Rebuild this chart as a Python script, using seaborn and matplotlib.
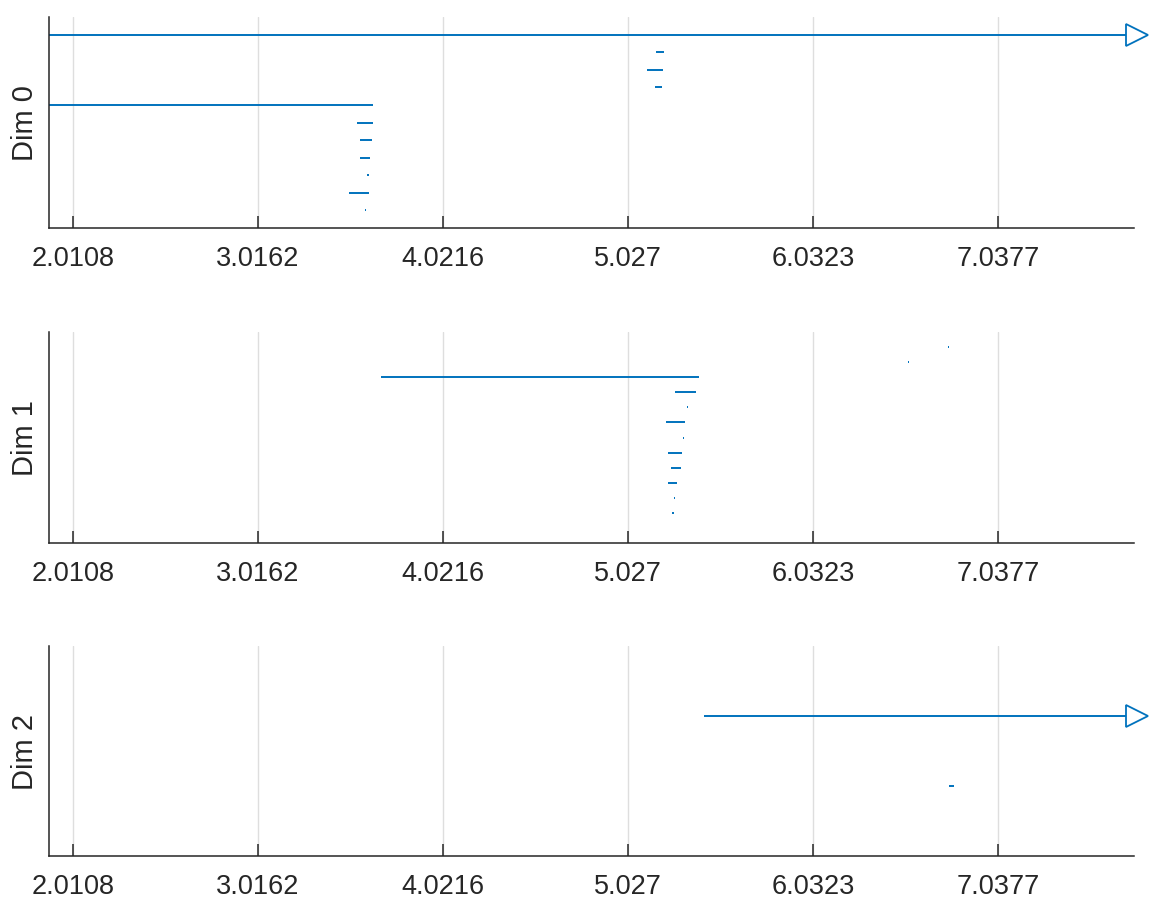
import numpy as np
import pandas as pd
import matplotlib
matplotlib.use("Agg")
import matplotlib.pyplot as plt
import seaborn as sns

# ---- data (persistence barcode: birth / death per homology dimension) ----
dim_labels = ["Dim 0", "Dim 1", "Dim 2"]
dim0_birth = [1.880, 5.177, 5.128, 5.175, 1.880, 3.555, 3.568, 3.568, 3.608, 3.508, 3.599]
dim0_death = [np.inf, 5.223, 5.219, 5.210, 3.642, 3.641, 3.633, 3.624, 3.619, 3.619, 3.602]
dim1_birth = [6.765, 6.548, 3.686, 5.284, 5.349, 5.235, 5.327, 5.245, 5.259, 5.243, 5.279, 5.264, 5.269]
dim1_death = [6.770, 6.552, 5.415, 5.399, 5.353, 5.337, 5.333, 5.318, 5.313, 5.292, 5.282, 5.279, 5.272]
dim2_birth = [5.442, 6.774]
dim2_death = [np.inf, 6.796]
tick_values = [2.0108, 3.0162, 4.0216, 5.027, 6.0323, 7.0377]
tick_labels = ["2.0108", "3.0162", "4.0216", "5.027", "6.0323", "7.0377"]
x_limits = (1.880, 7.777)

births = [dim0_birth, dim1_birth, dim2_birth]
deaths = [dim0_death, dim1_death, dim2_death]

BLUE = "#0072BD"
TXT = "#262626"

sns.set_theme(style="white")
plt.rcParams["font.family"] = ["Liberation Sans", "DejaVu Sans"]

fig = plt.figure(figsize=(11.64, 9.12), dpi=100)
rects = [
    [49 / 1164, 1 - 229 / 912, 1085 / 1164, 211 / 912],
    [49 / 1164, 1 - 544 / 912, 1085 / 1164, 211 / 912],
    [49 / 1164, 1 - 857 / 912, 1085 / 1164, 210 / 912],
]

for k in range(3):
    ax = fig.add_axes(rects[k])
    b = np.array(births[k], dtype=float)
    d = np.array(deaths[k], dtype=float)
    n = len(b)
    ypos = n - np.arange(n)  # top bar first
    inf_mask = np.isinf(d)
    d_draw = np.where(inf_mask, x_limits[1], d)
    rows = []
    for i in range(n):
        rows.append({"bar": i, "x": b[i], "y": ypos[i]})
        rows.append({"bar": i, "x": d_draw[i], "y": ypos[i]})
    df = pd.DataFrame(rows)
    sns.lineplot(data=df, x="x", y="y", units="bar", estimator=None,
                 color=BLUE, linewidth=1.4, ax=ax, sort=False,
                 solid_capstyle="butt", legend=False)
    # arrows for infinite bars
    if inf_mask.any():
        arrow_x = x_limits[1] + (x_limits[1] - x_limits[0]) * 0.0028
        ax.plot(np.full(inf_mask.sum(), arrow_x), ypos[inf_mask], linestyle="none",
                marker=">", markersize=16, markerfacecolor="white",
                markeredgecolor=BLUE, markeredgewidth=1.3, clip_on=False, zorder=5)
    ax.set_xlim(*x_limits)
    ax.set_ylim(0, n + 1)
    ax.set_xticks(tick_values)
    ax.set_xticklabels(tick_labels)
    ax.set_yticks([])
    ax.set_xlabel("")
    ax.set_ylabel(dim_labels[k], fontsize=21, color=TXT)
    ax.yaxis.set_label_coords(-0.009, 0.5)
    ax.grid(axis="x", color="#dedede", linewidth=1.0)
    ax.set_axisbelow(True)
    for s in ["top", "right"]:
        ax.spines[s].set_visible(False)
    for s in ["left", "bottom"]:
        ax.spines[s].set_color(TXT)
        ax.spines[s].set_linewidth(1.1)
    ax.tick_params(axis="x", direction="in", length=8.5, width=1.1, color=TXT,
                   labelsize=19.5, labelcolor=TXT, pad=12, bottom=True)

fig.savefig("out.png", dpi=100)
